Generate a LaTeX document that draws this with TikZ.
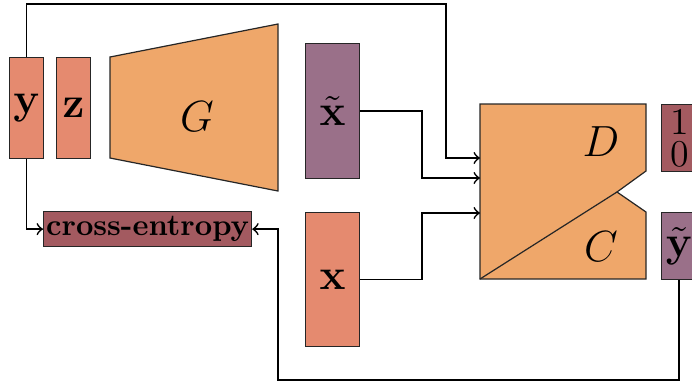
\documentclass[tikz,border=0pt]{standalone}
\usepackage{amsmath}
\definecolor{salmon}{HTML}{E58A6F}
\definecolor{orng}{HTML}{EFA76A}
\definecolor{purp}{HTML}{9A7089}
\definecolor{dred}{HTML}{A35A60}
\begin{document}
\begin{tikzpicture}[x=0.33pt,y=-0.33pt,
  box/.style={draw=black!85,line width=0.4pt,inner sep=0pt,anchor=north west},
  shapeline/.style={draw=black!85,line width=0.4pt},
  conn/.style={line width=0.55pt,->},
  lbl/.style={inner sep=0pt}]
\useasboundingbox (0,0) rectangle (692,385);
% input boxes
\node[box,fill=salmon,minimum width=34*0.33pt,minimum height=101*0.33pt] (y) at (9,57) {\Large$\mathbf{y}$};
\node[box,fill=salmon,minimum width=34*0.33pt,minimum height=101*0.33pt] (z) at (56,57) {\Large$\mathbf{z}$};
% generator
\path[shapeline,fill=orng] (110,57) -- (278,24) -- (278,191) -- (110,158) -- cycle;
\node[lbl] (G) at (197,117) {\Large$G$};
% generated and real samples
\node[box,fill=purp,minimum width=54*0.33pt,minimum height=135*0.33pt] (xt) at (305,43) {\Large$\tilde{\mathbf{x}}$};
\node[box,fill=salmon,minimum width=54*0.33pt,minimum height=134*0.33pt] (x) at (305,212) {\Large$\mathbf{x}$};
% discriminator / classifier
\path[shapeline,fill=orng] (480,104) -- (646,104) -- (646,171) -- (617,192) -- (646,212) -- (646,279) -- (480,279) -- cycle;
\draw[shapeline] (480,279) -- (617,192);
\node[lbl] (D) at (601,142) {\Large$D$};
\node[lbl] (C) at (601,247) {\Large$C$};
% outputs
\node[box,fill=dred,minimum width=36*0.33pt,minimum height=67*0.33pt,align=center,font=\fontsize{12.5pt}{10.6pt}\selectfont] (rf) at (661,104) {1\\0};
\node[box,fill=purp,minimum width=35*0.33pt,minimum height=67*0.33pt] (yt) at (661,212) {\Large$\tilde{\mathbf{y}}$};
% loss
\node[box,fill=dred,minimum width=208*0.33pt,minimum height=35*0.33pt,font=\bfseries] (ce) at (43,211) {cross-entropy};
% connector points
\coordinate (top) at (446,4);
\coordinate (din1) at (480,158);
\coordinate (din2) at (480,178);
\coordinate (din3) at (480,213);
\coordinate (bot) at (278,380);
% connectors
\draw[conn] (y.north) |- (top) |- (din1);
\draw[conn] (xt.east) -- ++(62,0) |- (din2);
\draw[conn] (x.east) -- ++(62,0) |- (din3);
\draw[conn] (y.south) |- (ce.west);
\draw[conn] (yt.south) |- (bot) |- (ce.east);
\end{tikzpicture}
\end{document}
